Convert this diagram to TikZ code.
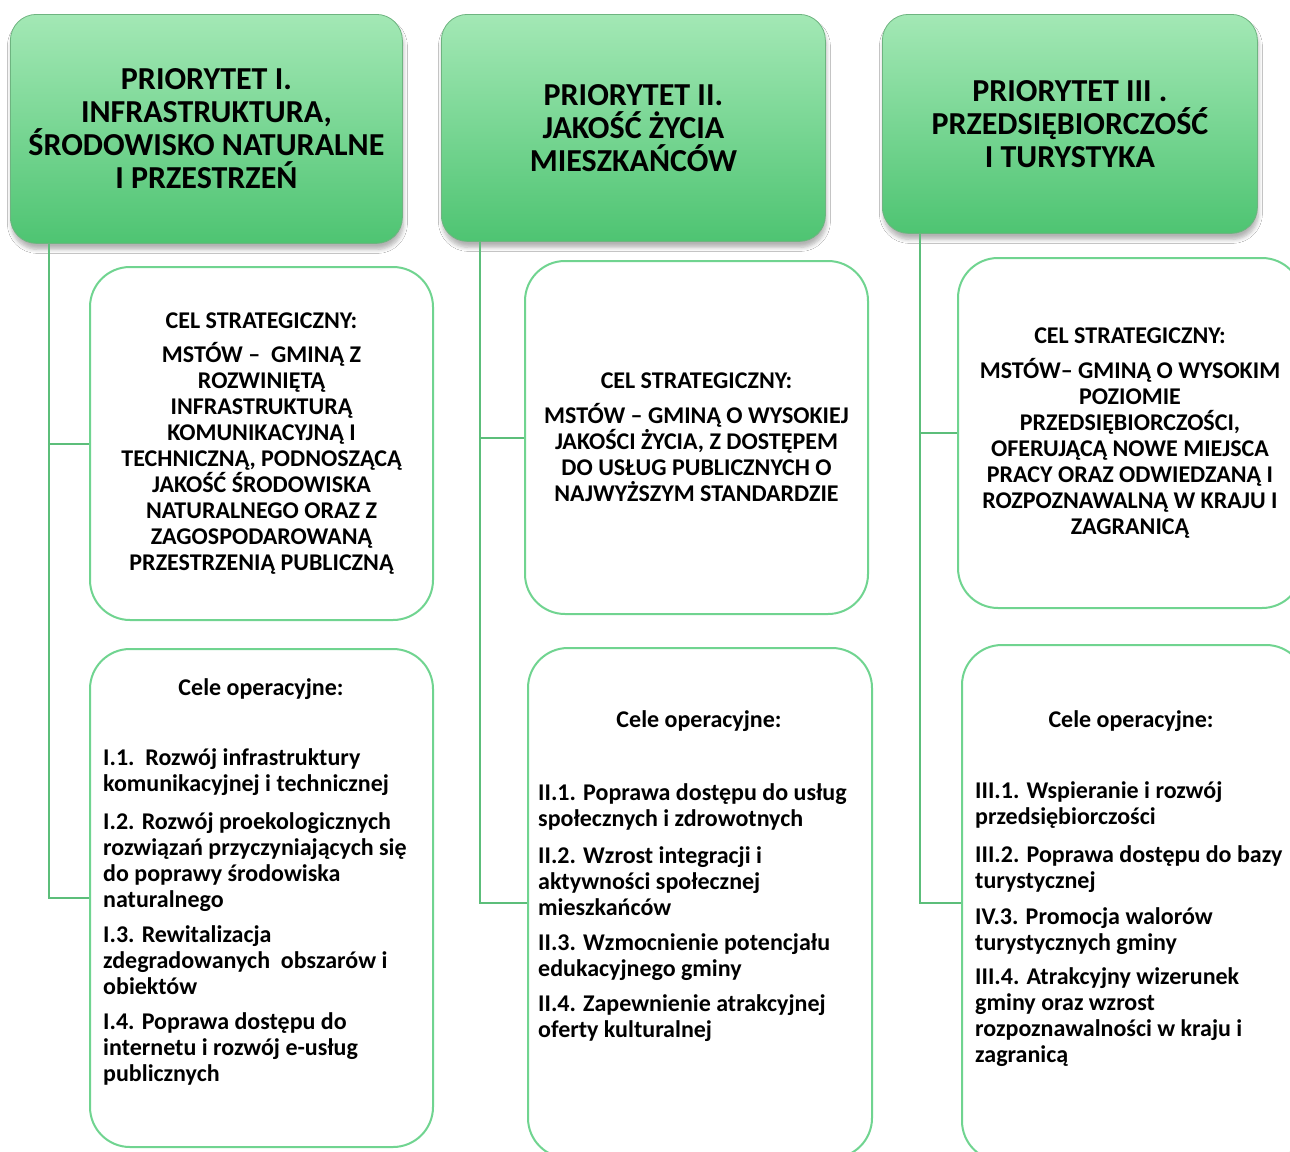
\documentclass[tikz,border=0pt]{standalone}
\usepackage{fontspec}
\setmainfont{Carlito}
\usetikzlibrary{shadows.blur}
\definecolor{hdtop}{RGB}{163,232,181}
\definecolor{hdbot}{RGB}{78,196,114}
\definecolor{hdline}{RGB}{110,180,128}
\definecolor{boxline}{RGB}{112,212,144}
\definecolor{connline}{RGB}{92,190,122}
\tikzset{
  header/.style={rectangle, rounded corners=26pt, top color=hdtop, bottom color=hdbot,
    draw=hdline, line width=0.8pt, anchor=north west, inner sep=0pt, align=center,
    font=\fontsize{32}{33}\selectfont\bfseries,
    blur shadow={shadow xshift=1pt, shadow yshift=-6pt, shadow opacity=30, shadow blur radius=4pt, shadow blur steps=6}},
  goalbox/.style={rectangle, rounded corners=40pt, draw=boxline, line width=2pt, fill=white,
    anchor=north west, inner sep=0pt, align=center,
    font=\fontsize{24}{26}\selectfont\bfseries},
  optitle/.style={inner sep=0pt, font=\fontsize{24}{26}\selectfont\bfseries},
  opitems/.style={inner sep=0pt, anchor=north west, align=left,
    font=\fontsize{24}{26}\selectfont\bfseries},
  conn/.style={draw=connline, line width=2pt}
}
\begin{document}
\begin{tikzpicture}[x=1pt,y=1pt]
\useasboundingbox (0,0) rectangle (1290,-1151);
\clip (0,0) rectangle (1290,-1151);
\fill[white] (0,0) rectangle (1290,-1151);

% headers
\node[header, minimum width=392pt, minimum height=229pt] (h1) at (10,-14)
  {PRIORYTET I.\\INFRASTRUKTURA,\\ŚRODOWISKO NATURALNE\\I PRZESTRZEŃ};
\node[header, minimum width=384pt, minimum height=227pt] (h2) at (441,-14)
  {PRIORYTET II.\\JAKOŚĆ ŻYCIA\\MIESZKAŃCÓW};
\node[header, minimum width=375pt, minimum height=219pt] (h3) at (882,-14)
  {PRIORYTET III .\\PRZEDSIĘBIORCZOŚĆ\\I TURYSTYKA};

% strategic goal boxes
\node[goalbox, minimum width=343pt, minimum height=353pt] (c1) at (89,-266)
  {CEL STRATEGICZNY:\\[8pt]MSTÓW –\ \ GMINĄ Z\\ROZWINIĘTĄ\\INFRASTRUKTURĄ\\KOMUNIKACYJNĄ I\\TECHNICZNĄ, PODNOSZĄCĄ\\JAKOŚĆ ŚRODOWISKA\\NATURALNEGO ORAZ Z\\ZAGOSPODAROWANĄ\\PRZESTRZENIĄ PUBLICZNĄ};
\node[goalbox, minimum width=343pt, minimum height=353pt] (c2) at (524,-260)
  {CEL STRATEGICZNY:\\[9pt]MSTÓW – GMINĄ O WYSOKIEJ\\JAKOŚCI ŻYCIA, Z DOSTĘPEM\\DO USŁUG PUBLICZNYCH O\\NAJWYŻSZYM STANDARDZIE};
\node[goalbox, minimum width=344pt, minimum height=350pt] (c3) at (957,-257)
  {CEL STRATEGICZNY:\\[9pt]MSTÓW– GMINĄ O WYSOKIM\\POZIOMIE\\PRZEDSIĘBIORCZOŚCI,\\OFERUJĄCĄ NOWE MIEJSCA\\PRACY ORAZ ODWIEDZANĄ I\\ROZPOZNAWALNĄ W KRAJU I\\ZAGRANICĄ};

% operational goal boxes
\node[goalbox, minimum width=343pt, minimum height=498pt] (o1) at (89,-648) {};
\node[goalbox, minimum width=344pt, minimum height=510pt] (o2) at (527,-647) {};
\node[goalbox, minimum width=344pt, minimum height=516pt] (o3) at (961,-644) {};

\node[optitle] (t1) at (261,-689) {Cele operacyjne:};
\node[optitle] (t2) at (699,-721) {Cele operacyjne:};
\node[optitle] (t3) at (1131,-721) {Cele operacyjne:};

\node[opitems] (i1) at (103,-748)
  {I.1.\ \ Rozwój infrastruktury\\komunikacyjnej i technicznej\\[12pt]
   I.2. Rozwój proekologicznych\\rozwiązań przyczyniających się\\do poprawy środowiska\\naturalnego\\[9pt]
   I.3. Rewitalizacja\\zdegradowanych\ \ obszarów i\\obiektów\\[9pt]
   I.4. Poprawa dostępu do\\internetu i rozwój e-usług\\publicznych};
\node[opitems] (i2) at (538,-783)
  {II.1. Poprawa dostępu do usług\\społecznych i zdrowotnych\\[11pt]
   II.2. Wzrost integracji i\\aktywności społecznej\\mieszkańców\\[9pt]
   II.3. Wzmocnienie potencjału\\edukacyjnego gminy\\[9pt]
   II.4. Zapewnienie atrakcyjnej\\oferty kulturalnej};
\node[opitems] (i3) at (975,-781)
  {III.1. Wspieranie i rozwój\\przedsiębiorczości\\[12pt]
   III.2. Poprawa dostępu do bazy\\turystycznej\\[10pt]
   IV.3. Promocja walorów\\turystycznych gminy\\[8pt]
   III.4. Atrakcyjny wizerunek\\gminy oraz wzrost\\rozpoznawalności w kraju i\\zagranicą};

% connectors
\draw[conn] ([xshift=39pt]h1.south west) |- (c1.west);
\draw[conn] ([xshift=39pt]h1.south west) |- (o1.west);
\draw[conn] ([xshift=39pt]h2.south west) |- (c2.west);
\draw[conn] ([xshift=39pt]h2.south west) |- (o2.west);
\draw[conn] ([xshift=38pt]h3.south west) |- (c3.west);
\draw[conn] ([xshift=38pt]h3.south west) |- (o3.west);
\end{tikzpicture}
\end{document}
